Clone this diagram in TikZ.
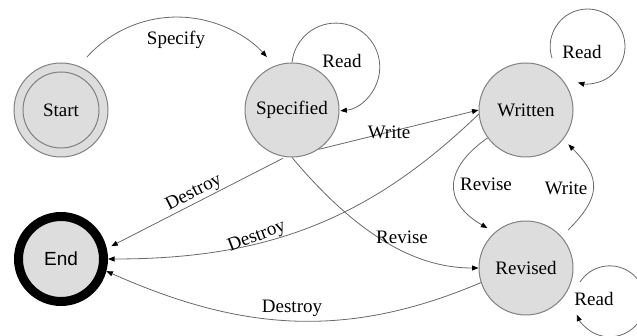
\documentclass[tikz,border=0pt]{standalone}
\usepackage{fontspec}
\setmainfont{Liberation Serif}
\newfontfamily\endfont{Liberation Sans}
\usetikzlibrary{arrows.meta}
\definecolor{statefill}{RGB}{221,221,221}
\definecolor{stateline}{RGB}{128,128,128}
\definecolor{edgeline}{RGB}{105,105,105}

\begin{document}
\begin{tikzpicture}[x=1pt,y=1pt,
  txt/.style={font=\fontsize{19}{22}\selectfont},
  state/.style={circle, draw=stateline, fill=statefill, line width=1pt,
    minimum size=94pt, inner sep=0pt, txt},
  final/.style={circle, draw=black, fill=statefill, line width=9pt,
    minimum size=85pt, inner sep=0pt, font=\endfont\fontsize{19}{22}\selectfont},
  conn/.style={draw=edgeline, line width=0.8pt,
    -{Triangle[length=6.5pt,width=5pt,color=black]}},
  lbl/.style={txt, inner sep=1pt}
]
\useasboundingbox (0,0) rectangle (637,336);
\clip (0,0) rectangle (637,336);

% states
\node[state] (st)   at (61,226)  {Start};
\draw[draw=stateline, line width=1pt] (st.center) circle[radius=38];
\node[state] (spec) at (292,226) {Specified};
\node[state] (wri)  at (526,226) {Written};
\node[state] (rev)  at (526,68)  {Revised};
\node[final] (en)   at (61,77)   {End};

% Start -> Specified
\draw[conn] (st) ++(63.9:59) arc[start angle=137.9, end angle=42.1, radius=121.25];
\node[lbl] (lspecify) at (176,296) {Specify};

% self loops (Read)
\draw[conn] (spec.north) arc[start angle=174, end angle=-84, radius=44];
\node[lbl] (lread1) at (342,275) {Read};
\draw[conn] (wri) ++(26,52) arc[start angle=198, end angle=-105, radius=37.4];
\node[lbl] (lread2) at (582,284) {Read};
\draw[conn] (rev) ++(54,-14) arc[start angle=147, end angle=-158, radius=35.5];
\node[lbl] (lread3) at (594,37) {Read};

% Specified -> Written
\draw[conn] (spec.-56) -- (wri.west);
\node[lbl] (lwrite1) at (389,204) {Write};

% Specified -> Revised
\draw[conn] (spec.south) .. controls +(-50:120) and +(-50,0) .. (rev.west);
\node[lbl] (lrevise1) at (402,99) {Revise};

% Written <-> Revised
\draw[conn] (wri.216.7) to[out=215, in=150, looseness=1.5] ([shift={(134.3:8)}]rev.134.3);
\node[lbl] (lrevise2) at (486,152) {Revise};
\draw[conn] ([shift={(42:9)}]rev.42) to[out=45, in=-45, looseness=1.4] ([shift={(-39.8:7)}]wri.-39.8);
\node[lbl] (lwrite2) at (566,148) {Write};

% Destroy transitions
\draw[conn, shorten <=3pt, shorten >=5pt] (spec.262) -- (en.13);
\node[lbl, rotate=27] (ldestroy1) at (194,143) {Destroy};
\draw[conn] (wri.185) to[out=224, in=0] (en.east);
\node[lbl, rotate=21] (ldestroy2) at (257,99) {Destroy};
\draw[conn] (rev.198) to[out=203, in=-24] (en.-15.5);
\node[lbl] (ldestroy3) at (292,28) {Destroy};
\end{tikzpicture}
\end{document}
